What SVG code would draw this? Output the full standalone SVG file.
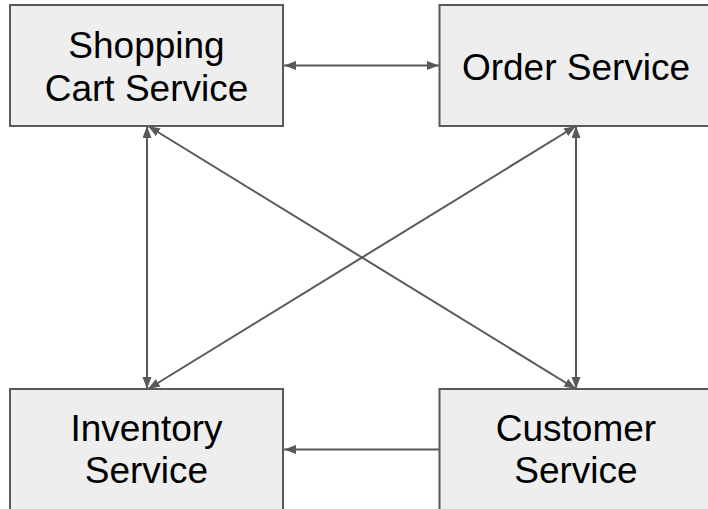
<svg xmlns="http://www.w3.org/2000/svg" width="708" height="509" viewBox="0 0 708 509">
<style>
.box{fill:#eeeeee;stroke:#595959;stroke-width:2}
.lbl{font-family:"Liberation Sans",Arial,sans-serif;font-size:37px;fill:#000;text-anchor:middle}
.c{stroke:#595959;stroke-width:2;fill:none}
</style>
<defs>
<marker id="ah" markerUnits="userSpaceOnUse" markerWidth="13" markerHeight="10" refX="12" refY="4.5" orient="auto-start-reverse">
<path d="M0,0 L12,4.5 L0,9 z" fill="#595959"/>
</marker>
</defs>
<rect width="708" height="509" fill="#ffffff"/>
<g id="connectors">
<line class="c" x1="284" y1="65.5" x2="439" y2="65.5" marker-start="url(#ah)" marker-end="url(#ah)"/>
<line class="c" x1="147" y1="126" x2="147" y2="389" marker-start="url(#ah)" marker-end="url(#ah)"/>
<line class="c" x1="576" y1="126" x2="576" y2="389" marker-start="url(#ah)" marker-end="url(#ah)"/>
<line class="c" x1="148" y1="126" x2="576" y2="389" marker-start="url(#ah)" marker-end="url(#ah)"/>
<line class="c" x1="576" y1="126" x2="148" y2="389" marker-start="url(#ah)" marker-end="url(#ah)"/>
<line class="c" x1="439" y1="449.5" x2="284" y2="449.5" marker-end="url(#ah)"/>
</g>
<g id="shopping-cart">
<rect class="box" x="10" y="5" width="273" height="121"/>
<text class="lbl" x="146.5" y="57.5">Shopping</text>
<text class="lbl" x="146.5" y="100.5">Cart Service</text>
</g>
<g id="order">
<rect class="box" x="439.5" y="5" width="273" height="121"/>
<text class="lbl" x="576" y="80">Order Service</text>
</g>
<g id="inventory">
<rect class="box" x="10" y="389" width="273" height="121"/>
<text class="lbl" x="146.5" y="441">Inventory</text>
<text class="lbl" x="146.5" y="483">Service</text>
</g>
<g id="customer">
<rect class="box" x="439.5" y="389" width="273" height="121"/>
<text class="lbl" x="576" y="441">Customer</text>
<text class="lbl" x="576" y="483">Service</text>
</g>
</svg>
